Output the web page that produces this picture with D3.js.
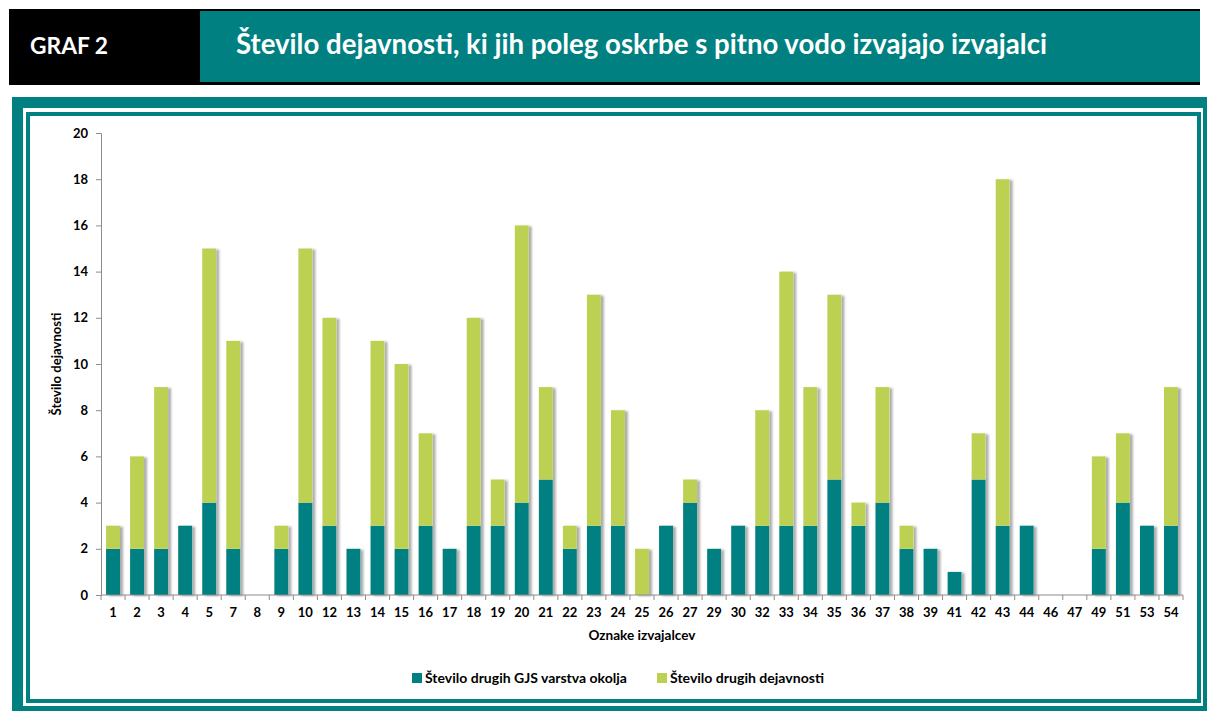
<!DOCTYPE html>
<html>
<head>
<meta charset="utf-8">
<script src="https://cdn.jsdelivr.net/npm/d3@7"></script>
<style>
  body { margin: 0; background: #fff; }
  svg { display: block; font-family: Lato, "Open Sans", sans-serif; }
</style>
</head>
<body>
<svg width="1210" height="711"></svg>
<script>
// Chart data
const categories = ["1","2","3","4","5","7","8","9","10","12","13","14","15","16","17","18","19","20","21","22","23","24","25","26","27","29","30","32","33","34","35","36","37","38","39","41","42","43","44","46","47","49","51","53","54"];
const gjsValues   = [2,2,2,3,4,2,0,2,4,3,2,3,2,3,2,3,3,4,5,2,3,3,0,3,4,2,3,3,3,3,5,3,4,2,2,1,5,3,3,0,0,2,4,3,3];
const otherValues = [1,4,7,0,11,9,0,1,11,9,0,8,8,4,0,9,2,12,4,1,10,5,2,0,1,0,0,5,11,6,8,1,5,1,0,0,2,15,0,0,0,4,3,0,6];
const seriesNames = ["Število drugih GJS varstva okolja", "Število drugih dejavnosti"];
const yTicks = [0,2,4,6,8,10,12,14,16,18,20];

const teal = "#008080";
const green = "#bcd152";

const svg = d3.select("svg");

// scale a text's font size so it spans a given width
function fitText(sel, w) {
    const node = sel.node();
    const fs = parseFloat(sel.attr("font-size"));
    const len = node.getComputedTextLength();
    if (len > 0) sel.attr("font-size", (fs * w / len).toFixed(2));
}

// Header
svg.append("rect").attr("x", 9).attr("y", 9).attr("width", 1191).attr("height", 76).attr("fill", "#000");
svg.append("rect").attr("x", 200).attr("y", 11).attr("width", 1000).attr("height", 71).attr("fill", teal);
svg.append("text").attr("x", 30).attr("y", 54).attr("fill", "#fff")
    .attr("font-size", 22).attr("font-weight", "bold").text("GRAF 2")
    .call(fitText, 78);
svg.append("text").attr("x", 236).attr("y", 54).attr("fill", "#fff")
    .attr("font-size", 24).attr("font-weight", "bold")
    .text("Število dejavnosti, ki jih poleg oskrbe s pitno vodo izvajajo izvajalci")
    .call(fitText, 811);

// Double teal frame
svg.append("rect").attr("x", 12).attr("y", 97).attr("width", 1195).attr("height", 620).attr("fill", teal);
svg.append("rect").attr("x", 23).attr("y", 108).attr("width", 1180).attr("height", 598).attr("fill", "#fff");
svg.append("rect").attr("x", 26).attr("y", 112).attr("width", 1175).attr("height", 591).attr("fill", teal);
svg.append("rect").attr("x", 30).attr("y", 116).attr("width", 1167).attr("height", 583).attr("fill", "#fff");

// Plot area
const plotLeft = 101, plotRight = 1183, plotTop = 133, plotBottom = 595;

const x = d3.scaleBand().domain(categories).range([plotLeft, plotRight]).paddingInner(0.42).paddingOuter(0.21);
const y = d3.scaleLinear().domain([0, 20]).range([plotBottom, plotTop]);

const defs = svg.append("defs");
const shadow = defs.append("filter").attr("id", "shadow")
    .attr("x", "-20%").attr("y", "-5%").attr("width", "160%").attr("height", "110%");
shadow.append("feDropShadow").attr("dx", 3).attr("dy", 1).attr("stdDeviation", 1.3)
    .attr("flood-color", "#777").attr("flood-opacity", 0.6);

const table = categories.map((c, i) => ({ cat: c, gjs: gjsValues[i], other: otherValues[i] }));
const stacked = d3.stack().keys(["gjs", "other"])(table);
const colors = [teal, green];

// shadows first, one per whole bar
svg.append("g").selectAll("rect")
    .data(table.filter(d => d.gjs + d.other > 0))
    .join("rect")
    .attr("x", d => x(d.cat))
    .attr("y", d => y(d.gjs + d.other))
    .attr("width", x.bandwidth())
    .attr("height", d => y(0) - y(d.gjs + d.other))
    .attr("fill", "#fff")
    .attr("filter", "url(#shadow)");

svg.append("g").selectAll("g")
    .data(stacked)
    .join("g")
    .attr("fill", (d, i) => colors[i])
    .selectAll("rect")
    .data(d => d)
    .join("rect")
    .attr("x", d => x(d.data.cat))
    .attr("y", d => y(d[1]))
    .attr("width", x.bandwidth())
    .attr("height", d => y(d[0]) - y(d[1]));

// Y axis
const yAxis = svg.append("g").attr("transform", `translate(${plotLeft},0)`)
    .call(d3.axisLeft(y).tickValues(yTicks).tickSize(5).tickPadding(8));
// X axis
const xAxis = svg.append("g").attr("transform", `translate(0,${plotBottom})`)
    .call(d3.axisBottom(x).tickSize(0).tickPadding(13));
// category boundary ticks
xAxis.selectAll("line.bound")
    .data(d3.range(categories.length + 1))
    .join("line").attr("class", "bound")
    .attr("x1", i => plotLeft + i * x.step()).attr("x2", i => plotLeft + i * x.step())
    .attr("y1", 0).attr("y2", 5)
    .attr("stroke", "#8c8c8c");

[yAxis, xAxis].forEach(a => {
    a.select(".domain").attr("stroke", "#8c8c8c");
    a.selectAll(".tick line").attr("stroke", "#8c8c8c");
    a.selectAll(".tick text").attr("font-family", "Lato, sans-serif")
        .attr("font-size", 13).attr("font-weight", "bold").attr("fill", "#000");
});
xAxis.select(".domain").attr("d", `M${plotLeft},0H${plotRight}`);

// Axis titles
svg.append("text")
    .attr("transform", `translate(61,${(plotTop + plotBottom) / 2}) rotate(-90)`)
    .attr("text-anchor", "middle").attr("font-size", 12).attr("font-weight", "bold")
    .text("Število dejavnosti")
    .call(fitText, 103);
svg.append("text")
    .attr("x", (plotLeft + plotRight) / 2).attr("y", 640)
    .attr("text-anchor", "middle").attr("font-size", 12).attr("font-weight", "bold")
    .text("Oznake izvajalcev")
    .call(fitText, 107);

// Legend
const legendX = [412, 657];
const legendW = [202, 154];
seriesNames.forEach((name, i) => {
    const g = svg.append("g").attr("transform", `translate(${legendX[i]},673)`);
    g.append("rect").attr("width", 10).attr("height", 10).attr("fill", colors[i]);
    g.append("text").attr("x", 13).attr("y", 10)
        .attr("font-size", 12).attr("font-weight", "bold").text(name)
        .call(fitText, legendW[i]);
});
</script>
</body>
</html>
